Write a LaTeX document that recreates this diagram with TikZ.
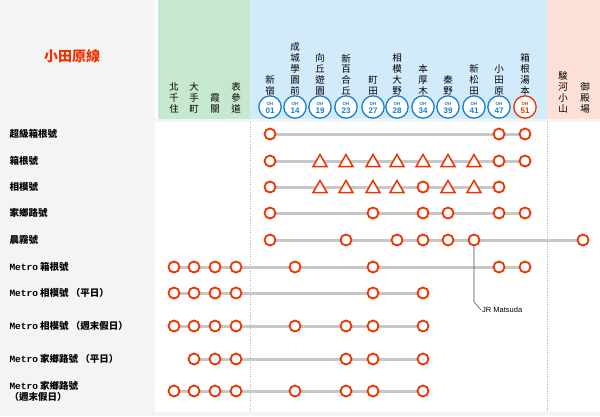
\documentclass[tikz,border=0pt]{standalone}
\usepackage{fontspec}
\setmainfont{Noto Sans CJK TC}
\newfontfamily\monof{Liberation Mono}
\newfontfamily\latf{Liberation Sans}
\usetikzlibrary{shapes.geometric}
\definecolor{stred}{HTML}{EE3300}
\definecolor{stblue}{HTML}{1A7FD1}
\definecolor{bgg}{HTML}{C6E8CF}
\definecolor{bgb}{HTML}{D2EBFA}
\definecolor{bgp}{HTML}{FDE0D6}
\definecolor{bgl}{HTML}{F4F4F4}
\tikzset{
 stop/.style={circle,draw=stred,fill=white,line width=1.8pt,minimum size=11pt,inner sep=0pt},
 tri/.style={regular polygon,regular polygon sides=3,draw=stred,fill=white,line width=1.5pt,minimum size=16pt,inner sep=0pt},
 track/.style={draw=black!22,line width=3pt},
 rowlab/.style={anchor=west,font=\fontsize{9.5}{11}\selectfont\bfseries,align=left},
 stlab/.style={anchor=south,font=\fontsize{9.5}{10.8}\selectfont,align=center,inner sep=0pt},
 badge/.style={circle,draw=stblue,line width=1.3pt,fill=white,minimum size=17pt,inner sep=0pt,text=stblue},
 sep/.style={draw=black!30,dotted}
}
\newcommand\badgetxt[1]{\latf\bfseries\begin{tabular}{@{}c@{}}{\fontsize{4.5}{4.5}\selectfont OH}\\[-3.5pt]{\fontsize{8}{8}\selectfont #1}\end{tabular}}
\begin{document}
\begin{tikzpicture}[x=1pt,y=-1pt]
\useasboundingbox (0,0) rectangle (600,416);
\fill[white] (0,0) rectangle (600,416);
\fill[bgl] (0,0) rectangle (155,416);
\fill[bgg] (158,0) rectangle (250,119);
\fill[bgb] (250,0) rectangle (547,119);
\fill[bgp] (547,0) rectangle (600,119);
\fill[bgl] (0,119) rectangle (600,122);
\fill[bgl] (0,412) rectangle (600,416);
\draw[sep] (250,122) -- (250,412);
\draw[sep] (547,122) -- (547,412);
\node[text=stred,font=\fontsize{14}{16}\selectfont\bfseries] (title) at (72,56) {小田原線};
\foreach \x/\t [count=\i] in {174/北\\千\\住,194/大\\手\\町,215/霞\\關,236/表\\參\\道}
  \node[stlab] (m\i) at (\x,113) {\t};
\foreach \x/\t/\n [count=\i] in {270/新\\宿/01,295/成\\城\\學\\園\\前/14,320/向\\丘\\遊\\園/19,346/新\\百\\合\\丘/23,373/町\\田/27,397/相\\模\\大\\野/28,423/本\\厚\\木/34,448/秦\\野/39,474/新\\松\\田/41,499/小\\田\\原/47}{
  \node[badge] (b\i) at (\x,107) {\badgetxt{\n}};
  \node[stlab] (o\i) at (\x,95) {\t};
}
\node[badge,draw=stred,text=stred] (b11) at (525,107) {\badgetxt{51}};
\node[stlab] (o11) at (525,95) {箱\\根\\湯\\本};
\node[stlab] (o12) at (563,113) {駿\\河\\小\\山};
\node[stlab] (o13) at (585,113) {御\\殿\\場};
\foreach \y/\lab/\pts [count=\r] in {
 134/超級箱根號/{270/c,499/c,525/c},
 161/箱根號/{270/c,320/t,346/t,373/t,397/t,423/t,448/t,474/t,499/c,525/c},
 187/相模號/{270/c,320/t,346/t,373/t,397/t,423/c,448/t,474/t,499/c},
 213/家鄉路號/{270/c,373/c,423/c,448/c,499/c,525/c},
 240/晨霧號/{270/c,346/c,397/c,423/c,448/c,474/c,583/c},
 267/{{\monof Metro} 箱根號}/{174/c,194/c,215/c,236/c,295/c,373/c,499/c,525/c},
 293/{{\monof Metro} 相模號 （平日）}/{174/c,194/c,215/c,236/c,373/c,423/c},
 326/{{\monof Metro} 相模號 （週末假日）}/{174/c,194/c,215/c,236/c,295/c,346/c,373/c,423/c},
 359/{{\monof Metro} 家鄉路號 （平日）}/{194/c,215/c,236/c,346/c,373/c,423/c},
 391/{{\monof Metro} 家鄉路號\\（週末假日）}/{174/c,194/c,215/c,236/c,295/c,346/c,373/c,423/c}}{
  \node[rowlab] (L\r) at (6,\y) {\lab};
  \foreach \x/\k [count=\j] in \pts {
    \coordinate (p\r-\j) at (\x,\y);
    \ifnum\j=1 \coordinate (first\r) at (\x,\y); \fi
    \coordinate (last\r) at (\x,\y);
  }
  \path[track] (first\r) -- (last\r);
  \foreach \x/\k [count=\j] in \pts {
    \if\k c\node[stop] (s\r-\j) at (p\r-\j) {};\else\node[tri] (s\r-\j) at ([yshift=-1.5pt]p\r-\j) {};\fi
  }
}
\coordinate (bend) at (474,302);
\node[anchor=west,font=\latf\fontsize{7.5}{9}\selectfont,inner sep=1pt] (jr) at (481,310) {JR Matsuda};
\draw[black!70,line width=0.6pt] (s5-6.south) -- (bend) -- (jr.west);
\end{tikzpicture}
\end{document}
